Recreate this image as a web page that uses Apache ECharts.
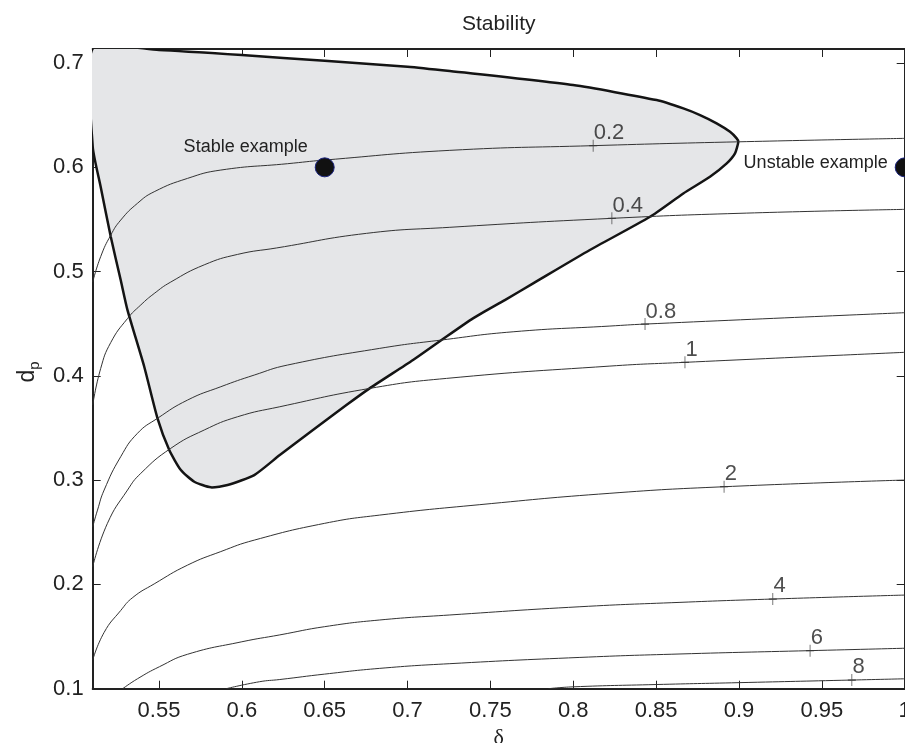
<!DOCTYPE html>
<html style="height: 100%">
<head>
    <meta charset="utf-8">
    <script type="text/javascript" src="https://cdn.jsdelivr.net/npm/echarts@6/dist/echarts.min.js"></script>
</head>
<body style="height: 100%; margin: 0; overflow: hidden">
<div id="container" style="width: 905px; height: 743px"></div>
<script type="text/javascript">
    // tick labels
    var xTicks = [0.55, 0.6, 0.65, 0.7, 0.75, 0.8, 0.85, 0.9, 0.95, 1];
    var yTicks = [0.1, 0.2, 0.3, 0.4, 0.5, 0.6, 0.7];

    // stable region boundary (delta, d_p)
    var stableRegion = [
        [0.51, 0.620], [0.5148, 0.5814], [0.5209, 0.5334], [0.5269, 0.4919], [0.531, 0.4631],
        [0.5411, 0.4088], [0.5491, 0.3593], [0.5562, 0.3289], [0.5632, 0.3097], [0.5713, 0.2985],
        [0.5813, 0.2931], [0.5914, 0.2953], [0.6075, 0.3049], [0.6229, 0.3241], [0.6429, 0.3481],
        [0.6631, 0.372], [0.6771, 0.388], [0.7033, 0.4152], [0.7205, 0.4344], [0.7395, 0.4552],
        [0.7587, 0.4727], [0.7758, 0.4887], [0.81, 0.5207], [0.8463, 0.5526], [0.8664, 0.575],
        [0.8825, 0.591], [0.8926, 0.6038], [0.8976, 0.6134], [0.8996, 0.6245], [0.8986, 0.6278],
        [0.8946, 0.6341], [0.8865, 0.6422], [0.8765, 0.6501], [0.8664, 0.6565], [0.8503, 0.6645],
        [0.7999, 0.6789], [0.7255, 0.6923], [0.7, 0.6965], [0.65, 0.7022], [0.6, 0.7077],
        [0.55, 0.7125], [0.51, 0.7140]
    ];

    // contour curves
    var contour02 = [[0.51, 0.490], [0.5148, 0.5143], [0.5209, 0.535], [0.5269, 0.5494], [0.537, 0.5655],
        [0.5471, 0.5766], [0.5672, 0.5894], [0.5873, 0.5974], [0.6276, 0.6035], [0.65, 0.607],
        [0.7255, 0.6163], [0.812, 0.6208], [0.9, 0.6245], [1.0, 0.6278]];
    var contour04 = [[0.51, 0.372], [0.5148, 0.407], [0.5209, 0.432], [0.531, 0.455], [0.539, 0.468],
        [0.5471, 0.479], [0.5571, 0.490], [0.5773, 0.5065], [0.5974, 0.5165], [0.621, 0.5227],
        [0.6752, 0.5367], [0.7255, 0.5425], [0.8233, 0.5511], [0.9, 0.5559], [1.0, 0.5597]];
    var contour08 = [[0.51, 0.2553], [0.5129, 0.2713], [0.5169, 0.2905], [0.5269, 0.3225], [0.537, 0.3449],
        [0.5491, 0.3593], [0.5672, 0.3768], [0.5873, 0.3896], [0.6075, 0.4008], [0.6276, 0.4104],
        [0.6832, 0.4264], [0.7205, 0.4344], [0.7637, 0.4423], [0.8221, 0.4478], [0.8433, 0.4497], [1.0, 0.4606]];
    var contour1 = [[0.51, 0.217], [0.5189, 0.2586], [0.531, 0.2905], [0.539, 0.3065], [0.5571, 0.3305],
        [0.5773, 0.3481], [0.5974, 0.3608], [0.6229, 0.3704], [0.6772, 0.388], [0.7235, 0.3976],
        [0.8221, 0.4094], [0.8674, 0.413], [1.0, 0.4226]];
    var contour2 = [[0.51, 0.1275], [0.5169, 0.154], [0.5269, 0.175], [0.5342, 0.1875], [0.5471, 0.2005],
        [0.5672, 0.2185], [0.5873, 0.2315], [0.6075, 0.2425], [0.65, 0.2586], [0.6832, 0.2665],
        [0.7436, 0.2765], [0.8221, 0.2874], [0.891, 0.2937], [1.0, 0.3001]];
    var contour4 = [[0.5281, 0.1], [0.537, 0.1095], [0.5503, 0.1211], [0.5672, 0.133], [0.6, 0.145],
        [0.6229, 0.1516], [0.65, 0.1595], [0.6832, 0.1659], [0.7255, 0.1707], [0.804, 0.1786],
        [0.8644, 0.1828], [0.9204, 0.186], [1.0, 0.1898]];
    var contour6 = [[0.5906, 0.1], [0.6107, 0.1067], [0.6229, 0.1088], [0.65, 0.114], [0.6832, 0.1195],
        [0.7255, 0.124], [0.804, 0.130], [0.8644, 0.1333], [0.9429, 0.1365], [1.0, 0.1388]];
    var contour8 = [[0.785, 0.1], [0.80, 0.1018], [0.85, 0.104], [0.9, 0.1058], [0.9681, 0.1083], [1.0, 0.1095]];

    // contour label markers: [delta, d_p, text]
    var contourLabels = [[0.812, 0.6208, '0.2'], [0.8233, 0.5511, '0.4'], [0.8433, 0.4497, '0.8'],
        [0.8674, 0.413, '1'], [0.891, 0.2937, '2'], [0.9204, 0.186, '4'], [0.9429, 0.1365, '6'],
        [0.9681, 0.1083, '8']];

    var examples = [[0.65, 0.6, 'Stable example'], [1.0, 0.6, 'Unstable example']];

    var font = 'Liberation Sans, Arial, Helvetica, sans-serif';
    var dom = document.getElementById('container');
    var myChart = echarts.init(dom);

    function contourSeries(data) {
        return {
            type: 'line',
            data: data,
            showSymbol: false,
            smooth: 0.5,
            clip: true,
            silent: true,
            z: 3,
            lineStyle: {color: '#333', width: 1}
        };
    }

    var axisCommon = {
        type: 'value',
        splitLine: {show: false},
        axisLine: {show: true, onZero: false, lineStyle: {color: '#222', width: 2}},
        axisTick: {show: true, inside: true, length: 8, lineStyle: {color: '#222', width: 1}}
    };

    option = {
        animation: false,
        backgroundColor: '#fff',
        title: {
            text: 'Stability',
            left: 457,
            top: 9,
            textStyle: {fontFamily: font, fontSize: 21, fontWeight: 'normal', color: '#222'}
        },
        grid: {left: 92.7, right: 0.3, top: 49, bottom: 54.3, outerBoundsMode: 'none', containLabel: false},
        xAxis: [
            Object.assign({}, axisCommon, {
                min: 0.51, max: 1, position: 'bottom',
                name: 'δ', nameLocation: 'middle', nameGap: 39,
                nameTextStyle: {fontFamily: 'Liberation Serif, DejaVu Serif, serif', fontSize: 22, color: '#222'},
                axisTick: Object.assign({}, axisCommon.axisTick, {customValues: xTicks}),
                axisLabel: {customValues: xTicks, margin: 11, fontFamily: font, fontSize: 22, color: '#222'}
            }),
            Object.assign({}, axisCommon, {
                min: 0.51, max: 1, position: 'top',
                axisTick: Object.assign({}, axisCommon.axisTick, {customValues: xTicks}),
                axisLabel: {show: false}
            })
        ],
        yAxis: [
            Object.assign({}, axisCommon, {
                min: 0.1, max: 0.7135, position: 'left',
                name: '{main|d}{sub|p}', nameLocation: 'middle', nameGap: 46, nameRotate: 90,
                nameTextStyle: {
                    padding: [0, 6, 0, 0],
                    rich: {
                        main: {fontFamily: font, fontSize: 23, color: '#222', lineHeight: 30, verticalAlign: 'middle'},
                        sub: {fontFamily: font, fontSize: 15, color: '#222', lineHeight: 30, verticalAlign: 'bottom'}
                    }
                },
                axisTick: Object.assign({}, axisCommon.axisTick, {customValues: yTicks}),
                axisLabel: {customValues: yTicks, margin: 9, fontFamily: font, fontSize: 22, color: '#222'}
            }),
            Object.assign({}, axisCommon, {
                min: 0.1, max: 0.7135, position: 'right',
                axisTick: Object.assign({}, axisCommon.axisTick, {customValues: yTicks}),
                axisLabel: {show: false}
            })
        ],
        series: [
            {
                type: 'custom',
                coordinateSystem: 'cartesian2d',
                data: stableRegion,
                clip: true,
                silent: true,
                z: 2,
                renderItem: function (params, api) {
                    if (params.dataIndex !== 0) return null;
                    return {
                        type: 'polygon',
                        shape: {points: stableRegion.map(function (p) { return api.coord(p); }), smooth: 0.2},
                        style: {fill: '#e5e6e8', stroke: '#141414', lineWidth: 2.5, lineJoin: 'round'}
                    };
                }
            },
            contourSeries(contour02),
            contourSeries(contour04),
            contourSeries(contour08),
            contourSeries(contour1),
            contourSeries(contour2),
            contourSeries(contour4),
            contourSeries(contour6),
            contourSeries(contour8),
            {
                type: 'scatter',
                data: contourLabels,
                symbol: 'path://M4,0L4,12M0,6L8,6',
                symbolSize: [8, 12],
                silent: true,
                z: 4,
                itemStyle: {color: 'transparent', borderColor: '#333', borderWidth: 1},
                label: {
                    show: true,
                    position: [5, -17],
                    formatter: function (p) { return p.value[2]; },
                    fontFamily: font, fontSize: 22, color: '#222'
                }
            },
            {
                type: 'scatter',
                data: examples,
                symbol: 'circle',
                symbolSize: 19,
                clip: false,
                silent: true,
                z: 5,
                itemStyle: {color: '#111', borderColor: '#1a237e', borderWidth: 1, opacity: 1},
                label: {
                    show: true,
                    position: 'left',
                    distance: 7,
                    formatter: function (p) { return p.value[2]; },
                    fontFamily: font, fontSize: 18, color: '#222'
                },
                labelLayout: function (params) {
                    return {dy: params.dataIndex === 0 ? -20 : -4};
                }
            }
        ]
    };
    myChart.setOption(option);
</script>
</body>
</html>
